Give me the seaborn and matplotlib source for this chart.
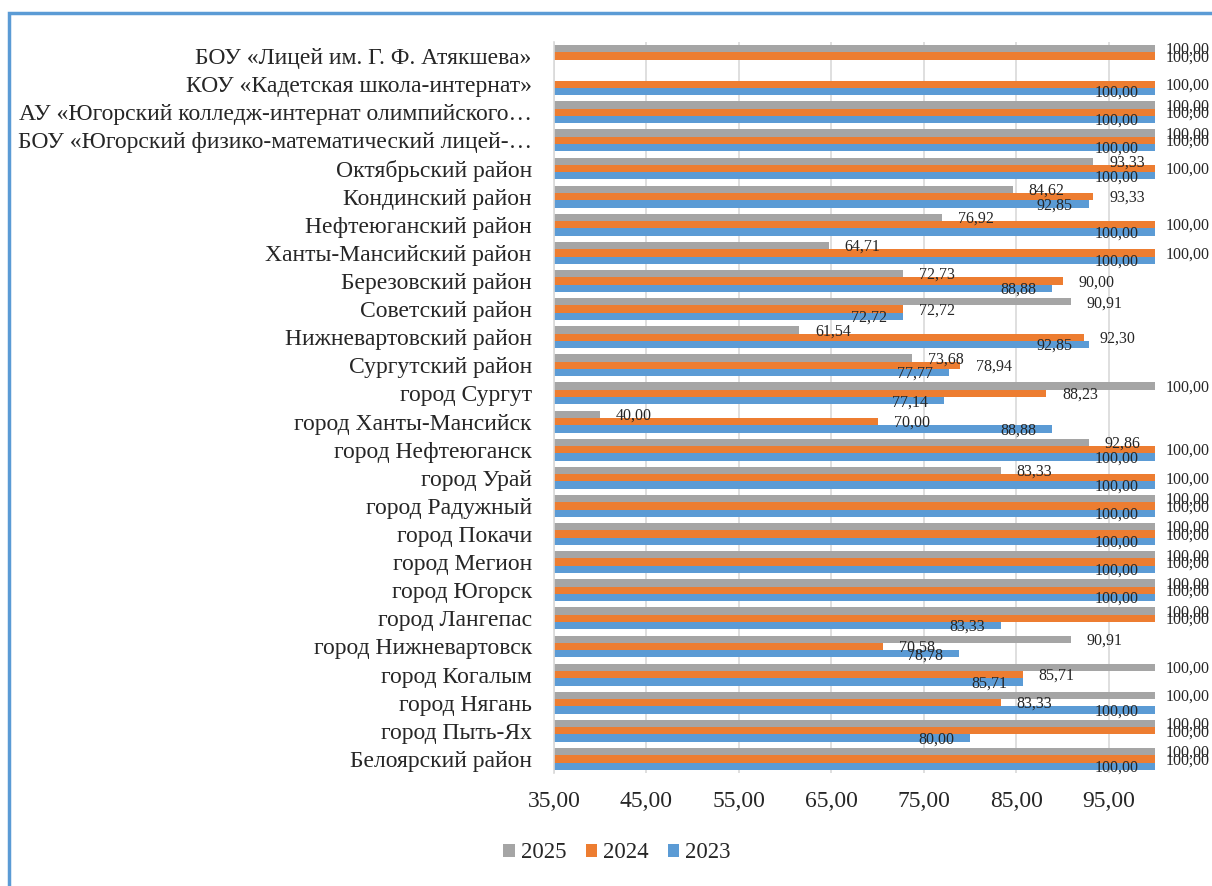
import numpy as np
import pandas as pd
import matplotlib.pyplot as plt
import seaborn as sns
from matplotlib.patches import Patch, Rectangle

categories = [
    "БОУ «Лицей им. Г. Ф. Атякшева»",
    "КОУ «Кадетская школа-интернат»",
    "АУ «Югорский колледж-интернат олимпийского…",
    "БОУ «Югорский физико-математический лицей-…",
    "Октябрьский район",
    "Кондинский район",
    "Нефтеюганский район",
    "Ханты-Мансийский район",
    "Березовский район",
    "Советский район",
    "Нижневартовский район",
    "Сургутский район",
    "город Сургут",
    "город Ханты-Мансийск",
    "город Нефтеюганск",
    "город Урай",
    "город Радужный",
    "город Покачи",
    "город Мегион",
    "город Югорск",
    "город Лангепас",
    "город Нижневартовск",
    "город Когалым",
    "город Нягань",
    "город Пыть-Ях",
    "Белоярский район",
]

v2025 = [100, np.nan, 100, 100, 93.33, 84.62, 76.92, 64.71, 72.73, 90.91, 61.54, 73.68, 100,
         40.00, 92.86, 83.33, 100, 100, 100, 100, 100, 90.91, 100, 100, 100, 100]
v2024 = [100, 100, 100, 100, 100, 93.33, 100, 100, 90.00, 72.72, 92.30, 78.94, 88.23,
         70.00, 100, 100, 100, 100, 100, 100, 100, 70.58, 85.71, 83.33, 100, 100]
v2023 = [np.nan, 100, 100, 100, 100, 92.85, 100, 100, 88.88, 72.72, 92.85, 77.77, 77.14,
         88.88, 100, 100, 100, 100, 100, 100, 83.33, 78.78, 85.71, 100, 80.00, 100]

years = ["2025", "2024", "2023"]
colors = ["#A5A5A5", "#ED7D31", "#5B9BD5"]
x_ticks = [35, 45, 55, 65, 75, 85, 95]

df = pd.DataFrame({
    "Территория": categories * 3,
    "Год": ["2025"] * 26 + ["2024"] * 26 + ["2023"] * 26,
    "Значение": v2025 + v2024 + v2023,
})

sns.set_style("white")
plt.rcParams["font.family"] = ["Liberation Serif", "DejaVu Serif"]

fig = plt.figure(figsize=(12.12, 8.86), dpi=100)
ax = fig.add_axes([554 / 1212, 1 - 773 / 886, 601 / 1212, 731 / 886])

sns.barplot(data=df, x="Значение", y="Территория", hue="Год", order=categories,
            hue_order=years, palette=colors, width=0.78, orient="h",
            linewidth=0, saturation=1, legend=False, ax=ax)

ax.set_xlim(35, 100)
ax.set_ylim(len(categories) - 0.5, -0.5)
ax.set_xticks(x_ticks)
ax.set_xticklabels([f"{t:.2f}".replace(".", ",") for t in x_ticks])
ax.grid(axis="x", color="#D9D9D9", linewidth=1.2)
ax.set_axisbelow(True)
ax.set_xlabel("")
ax.set_ylabel("")
ax.tick_params(axis="x", length=0, pad=13, labelsize=17)
ax.tick_params(axis="y", length=0, pad=16, labelsize=17)
ax.set_yticks(np.arange(-0.5, len(categories), 1), minor=True)
ax.tick_params(axis="y", which="minor", length=6, color="#D9D9D9", width=1.2)
for s in ["top", "right", "bottom"]:
    ax.spines[s].set_visible(False)
ax.spines["left"].set_color("#D9D9D9")
ax.spines["left"].set_linewidth(1.2)

# data labels
for i, cont in enumerate(ax.containers):
    for bar in cont:
        w = bar.get_width()
        if np.isnan(w):
            continue
        yc = bar.get_y() + bar.get_height() / 2
        txt = f"{w:.2f}".replace(".", ",")
        if i < 2:
            dx = 8 if w >= 100 else 11.5
            ax.annotate(txt, (w, yc), xytext=(dx, -1), textcoords="offset points",
                        ha="left", va="center", fontsize=11.5, annotation_clip=False)
        else:
            ax.annotate(txt, (w, yc), xytext=(-11.5, -1), textcoords="offset points",
                        ha="right", va="center", fontsize=11.5, annotation_clip=False)

handles = [Patch(facecolor=c, edgecolor="none") for c in colors]
fig.legend(handles, years, loc="center", bbox_to_anchor=(617 / 1212, 1 - 853 / 886),
           ncol=3, frameon=False, fontsize=16.5, handlelength=0.5, handleheight=0.5,
           handletextpad=0.25, columnspacing=0.85)

# chart border
fig.add_artist(Rectangle((9 / 1212, -0.1), 1.2, 1 - 13 / 886 + 0.1, transform=fig.transFigure,
                         fill=False, edgecolor="#5B9BD5", linewidth=2.5))

fig.savefig("out.png", dpi=100)
